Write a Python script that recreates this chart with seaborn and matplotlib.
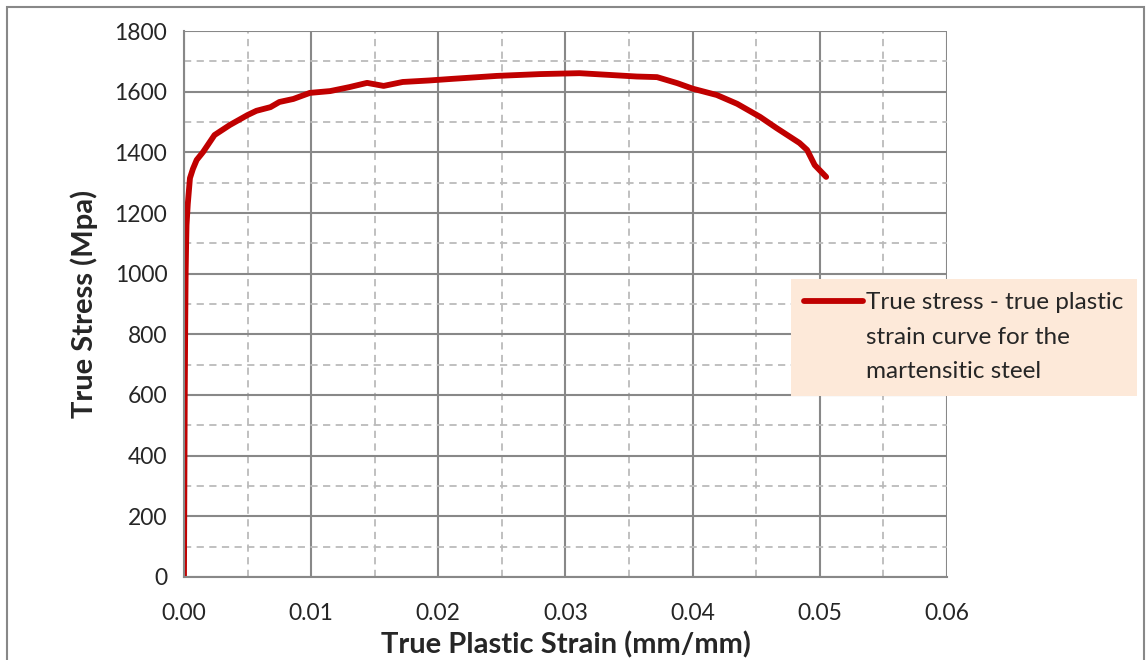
import matplotlib
matplotlib.use("Agg")
import matplotlib.pyplot as plt
from matplotlib.lines import Line2D
import seaborn as sns
import pandas as pd
from matplotlib.ticker import MultipleLocator, FormatStrFormatter

# True plastic strain (mm/mm) and true stress (MPa)
strain = [0.0, 0.00003, 0.00006, 0.0001, 0.00013, 0.00017, 0.0002, 0.0003,
          0.00047, 0.0007, 0.001, 0.0015, 0.0024, 0.0036, 0.005, 0.0057,
          0.0068, 0.0075, 0.0086, 0.0099, 0.0115, 0.013, 0.0144, 0.0157,
          0.0172, 0.0193, 0.021, 0.0246, 0.028, 0.0311, 0.0356, 0.0372,
          0.0388, 0.0400, 0.0419, 0.0435, 0.0453, 0.0466, 0.0484, 0.049,
          0.0496, 0.0505]
stress = [0, 300, 600, 850, 1000, 1100, 1160, 1230,
          1315, 1345, 1375, 1401, 1457, 1490, 1523, 1537,
          1549, 1566, 1576, 1596, 1602, 1615, 1629, 1619,
          1632, 1637, 1642, 1652, 1658, 1661, 1650, 1648,
          1628, 1610, 1589, 1560, 1517, 1480, 1431, 1408,
          1358, 1319]

legend_lines = ["True stress - true plastic", "strain curve for the", "martensitic steel"]

df = pd.DataFrame({"strain": strain, "stress": stress})

sns.set_style("white")
plt.rcParams["font.family"] = ["Lato", "DejaVu Sans"]

fig = plt.figure(figsize=(11.47, 6.6), dpi=100)
ax = fig.add_axes([0.1604, 0.1258, 0.8256 - 0.1604, 0.953 - 0.1258])

sns.lineplot(data=df, x="strain", y="stress", color="#C00000", linewidth=4.2,
             label=legend_lines[0], ax=ax, sort=False, solid_capstyle="round")

ax.set_xlim(0, 0.06)
ax.set_ylim(0, 1800)
ax.xaxis.set_major_locator(MultipleLocator(0.01))
ax.xaxis.set_minor_locator(MultipleLocator(0.005))
ax.yaxis.set_major_locator(MultipleLocator(200))
ax.yaxis.set_minor_locator(MultipleLocator(100))
ax.xaxis.set_major_formatter(FormatStrFormatter("%.2f"))

ax.grid(which="major", color="#888888", linewidth=1.5, linestyle="-")
ax.grid(which="minor", color="#BBBBBB", linewidth=1.3, linestyle=(0, (4, 3)))
ax.set_axisbelow(True)

for side in ["top", "right"]:
    ax.spines[side].set_visible(False)
for side in ["left", "bottom"]:
    ax.spines[side].set_color("#888888")
    ax.spines[side].set_linewidth(1.5)

ax.tick_params(which="major", direction="out", length=6, width=1.5,
               color="#888888", labelsize=16.5, pad=6)
ax.tick_params(which="minor", length=0)
ax.tick_params(axis="x", pad=13)

ax.set_xlabel("True Plastic Strain (mm/mm)", fontsize=21, fontweight="bold", labelpad=5)
ax.set_ylabel("True Stress (Mpa)", fontsize=21, fontweight="bold", labelpad=12)

# legend: the line sits beside the first row of text, the rest wraps below
handles, labels = ax.get_legend_handles_labels()
for txt in legend_lines[1:]:
    handles.append(Line2D([], [], color="none"))
    labels.append(txt)
leg = ax.legend(handles, labels, loc="upper left",
                bbox_to_anchor=(791 / 1147, 1 - 279 / 660),
                bbox_transform=fig.transFigure, frameon=True, fancybox=False,
                facecolor="#FDE9D9", edgecolor="none", framealpha=1,
                fontsize=17.5, handlelength=2.4, handletextpad=0.15,
                labelspacing=0.55, borderpad=0.55, borderaxespad=0)

# outer chart border
fig.patches.append(plt.Rectangle((7 / 1147, -0.01), 1138 / 1147 - 0.0005, 1 - 7 / 660 + 0.01,
                                 transform=fig.transFigure, fill=False,
                                 edgecolor="#888888", linewidth=1.5))

fig.savefig("out.png", dpi=100)
